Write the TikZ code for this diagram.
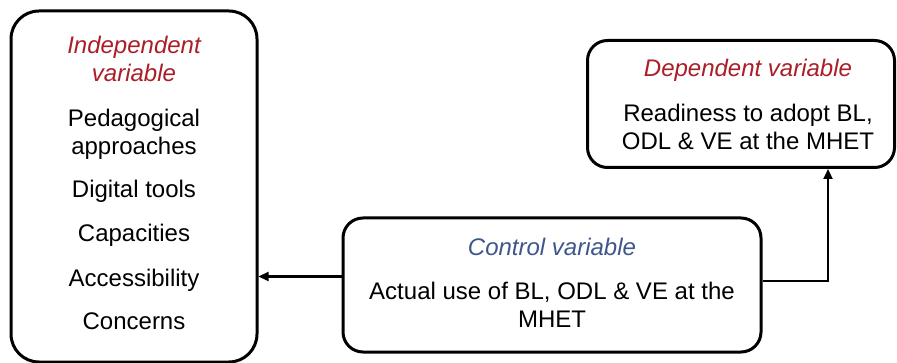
\documentclass[tikz,border=0pt]{standalone}
\usepackage{fontspec}
\setmainfont{Liberation Sans}
\usetikzlibrary{arrows.meta}
\definecolor{varred}{RGB}{170,30,40}
\definecolor{varblue}{RGB}{62,86,140}
\begin{document}
\begin{tikzpicture}[x=1pt,y=-1pt,
  box/.style={draw=black,line width=3pt,rectangle,inner sep=0pt},
  txt/.style={anchor=base,inner sep=0pt,font=\fontsize{24}{28}\selectfont},
  head/.style={txt,font=\fontsize{24}{28}\selectfont\itshape},
  arr/.style={line width=2.2pt,-{Triangle[length=10pt,width=9pt]}}]
\useasboundingbox (0,0) rectangle (897,363);

% the three boxes
\node[box,rounded corners=28pt,minimum width=246pt,minimum height=351pt] (indep) at (134,186.5) {};
\node[box,rounded corners=20pt,minimum width=307pt,minimum height=127pt] (dep) at (741,104) {};
\node[box,rounded corners=20pt,minimum width=418pt,minimum height=134pt] (ctrl) at (552,285) {};

% independent variable
\node[head,text=varred] (ih1) at (134,54) {Independent};
\node[head,text=varred] (ih2) at (134,82) {variable};
\node[txt] (i1a) at (134,127) {Pedagogical};
\node[txt] (i1b) at (134,155) {approaches};
\node[txt] (i2) at (134,198) {Digital tools};
\node[txt] (i3) at (134,242) {Capacities};
\node[txt] (i4) at (134,287) {Accessibility};
\node[txt] (i5) at (134,330) {Concerns};

% dependent variable
\node[head,text=varred] (dh) at (748,77) {Dependent variable};
\node[txt] (d1) at (748,122) {Readiness to adopt BL,};
\node[txt] (d2) at (748,150) {ODL \& VE at the MHET};

% control variable
\node[head,text=varblue] (ch) at (552,256) {Control variable};
\node[txt] (c1) at (552,300) {Actual use of BL, ODL \& VE at the};
\node[txt] (c2) at (552,328) {MHET};

% connectors
\draw[arr] ([yshift=8.5pt]ctrl.west) coordinate (cl) -- (cl -| indep.east);
\draw[arr] ([yshift=4pt]ctrl.east) -| ([xshift=87pt]dep.south);
\end{tikzpicture}
\end{document}
